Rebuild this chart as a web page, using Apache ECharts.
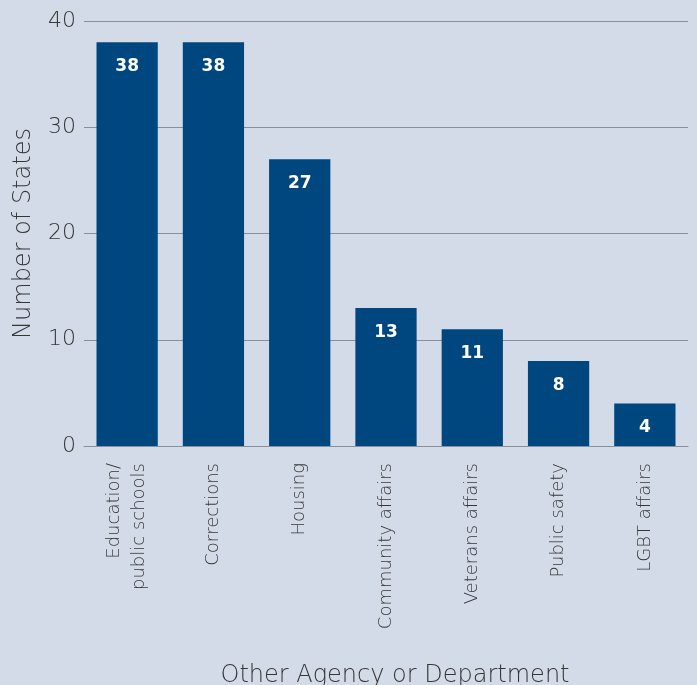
<!DOCTYPE html>
<html>
<head>
<meta charset="utf-8">
<script src="https://cdn.jsdelivr.net/npm/echarts@6/dist/echarts.min.js"></script>
<style>
  html, body { margin: 0; padding: 0; background: #d3dae8; }
  #chart { width: 697px; height: 685px; }
</style>
</head>
<body>
<div id="chart"></div>
<script>
// Agencies that states partner with, and how many states do so
const categories = [
  'Education/\npublic schools',
  'Corrections',
  'Housing',
  'Community affairs',
  'Veterans affairs',
  'Public safety',
  'LGBT affairs'
];
const stateCounts = [38, 38, 27, 13, 11, 8, 4];
const yTicks = [0, 10, 20, 30, 40];

const FONT = '"DejaVu Sans", sans-serif';
const TEXT = '#363636';

const chart = echarts.init(document.getElementById('chart'));
chart.setOption({
  backgroundColor: '#d3dae8',
  animation: false,
  grid: { left: 84, right: 9, top: 21, bottom: 239, outerBoundsMode: 'none', containLabel: false },
  xAxis: {
    type: 'category',
    data: categories,
    name: 'Other Agency or Department',
    nameLocation: 'middle',
    nameGap: 218,
    nameTextStyle: { fontFamily: FONT, fontSize: 24, color: TEXT, fontWeight: 200, padding: [0, 0, 0, 18] },
    axisLine: { show: true, lineStyle: { color: '#8a8f98', width: 1 } },
    axisTick: { show: false },
    axisLabel: {
      rotate: 90,
      margin: 17,
      interval: 0,
      fontFamily: FONT,
      fontSize: 18,
      fontWeight: 200,
      color: TEXT,
      lineHeight: 25
    }
  },
  yAxis: {
    type: 'value',
    min: yTicks[0],
    max: yTicks[yTicks.length - 1],
    interval: 10,
    name: 'Number of States',
    nameLocation: 'middle',
    nameGap: 48,
    nameTextStyle: { fontFamily: FONT, fontSize: 24, color: TEXT, fontWeight: 200 },
    axisLine: { show: false },
    axisTick: { show: false },
    axisLabel: {
      margin: 8,
      fontFamily: FONT,
      fontSize: 22,
      fontWeight: 200,
      color: TEXT
    },
    splitLine: { lineStyle: { color: '#8a8f98', width: 1 } }
  },
  series: [{
    type: 'bar',
    data: stateCounts,
    barCategoryGap: '29%',
    itemStyle: { color: '#00467f' },
    label: {
      show: true,
      position: 'insideTop',
      distance: 16,
      color: '#ffffff',
      fontFamily: FONT,
      fontWeight: 'bold',
      fontSize: 17
    }
  }]
});
</script>
</body>
</html>
